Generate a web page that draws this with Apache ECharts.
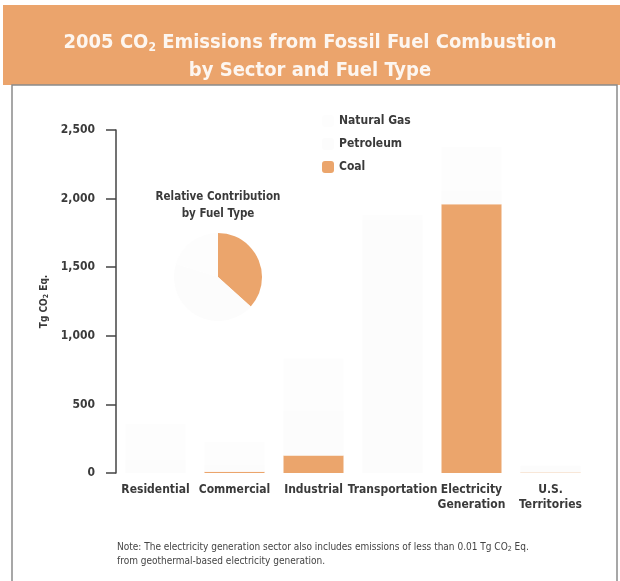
<!DOCTYPE html>
<html>
<head>
    <meta charset="utf-8">
    <title>2005 CO2 Emissions</title>
    <script src="https://cdn.jsdelivr.net/npm/echarts@6/dist/echarts.min.js"></script>
    <style>
        html, body { margin: 0; padding: 0; background: #fff; }
        #main { width: 620px; height: 581px; }
    </style>
</head>
<body>
    <div id="main"></div>
    <script type="text/javascript">
        // sectors on the x axis
        var sectors = ['Residential', 'Commercial', 'Industrial', 'Transportation', 'Electricity\nGeneration', 'U.S.\nTerritories'];
        // Tg CO2 Eq. by fuel
        var coal = [0.8, 9.3, 127.5, 0, 1958.4, 3.2];
        var petroleum = [94.9, 51.3, 325.0, 1850.0, 97.9, 50.0];
        var naturalGas = [262.2, 162.9, 382.0, 33.1, 318.8, 1.0];
        var yTicks = [0, 500, 1000, 1500, 2000, 2500];

        var narrow = "'Liberation Sans Narrow', 'DejaVu Sans Condensed', sans-serif";
        var orange = '#eba56c';
        // the other fuels are almost washed out in the original
        var ghostPet = '#fcfcfc';
        var ghostGas = '#fdfdfd';

        function sum(a) {
            var s = 0;
            for (var i = 0; i < a.length; i++) s += a[i];
            return s;
        }

        var myChart = echarts.init(document.getElementById('main'));

        var option = {
            backgroundColor: '#fff',
            animation: false,
            title: {
                text: '{a|2005 CO}{s|2}{a| Emissions from Fossil Fuel Combustion}\n{a|by Sector and Fuel Type}',
                left: 'center',
                top: 24,
                textStyle: {
                    rich: {
                        a: { color: '#fdf6f0', fontSize: 20, fontWeight: 'bold', fontFamily: narrow, lineHeight: 28 },
                        s: { color: '#fdf6f0', fontSize: 12, fontWeight: 'bold', fontFamily: narrow, padding: [10, 0, 0, 0], lineHeight: 28 }
                    }
                }
            },
            legend: {
                orient: 'vertical',
                left: 317,
                top: 110,
                itemWidth: 12,
                itemHeight: 12,
                itemGap: 11,
                data: ['Natural Gas', 'Petroleum', 'Coal'],
                textStyle: { color: '#3a3a3a', fontSize: 12, fontWeight: 'bold', fontFamily: narrow }
            },
            grid: { left: 116, right: 30, top: 130, bottom: 108 },
            xAxis: {
                type: 'category',
                data: sectors,
                axisLine: { show: false },
                axisTick: { show: false },
                axisLabel: {
                    color: '#3a3a3a', fontSize: 12, fontWeight: 'bold', fontFamily: narrow,
                    margin: 9, lineHeight: 15, interval: 0
                }
            },
            yAxis: {
                type: 'value',
                min: yTicks[0],
                max: yTicks[yTicks.length - 1],
                interval: 500,
                name: '{a|Tg CO}{s|2}{a| Eq.}',
                nameLocation: 'middle',
                nameRotate: 90,
                nameGap: 64,
                nameTextStyle: {
                    rich: {
                        a: { color: '#3a3a3a', fontSize: 10, fontWeight: 'bold', fontFamily: narrow },
                        s: { color: '#3a3a3a', fontSize: 7, fontWeight: 'bold', fontFamily: narrow, padding: [5, 0, 0, 0] }
                    }
                },
                axisLine: { show: true, lineStyle: { color: '#444', width: 1.5 } },
                axisTick: { show: true, length: 10, lineStyle: { color: '#444', width: 1.5 } },
                splitLine: { show: false },
                axisLabel: {
                    color: '#3a3a3a', fontSize: 12, fontWeight: 'bold', fontFamily: narrow, margin: 21,
                    formatter: function (v) { return v.toLocaleString('en-US'); }
                }
            },
            series: [
                {
                    name: 'Coal', type: 'bar', stack: 'fuel', data: coal, barWidth: 60,
                    itemStyle: { color: orange }
                },
                {
                    name: 'Petroleum', type: 'bar', stack: 'fuel', data: petroleum, barWidth: 60,
                    itemStyle: { color: ghostPet }
                },
                {
                    name: 'Natural Gas', type: 'bar', stack: 'fuel', data: naturalGas, barWidth: 60,
                    itemStyle: { color: ghostGas }
                },
                {
                    name: 'Relative Contribution', type: 'pie',
                    center: [218, 277], radius: 44, startAngle: 90,
                    silent: true, label: { show: false }, labelLine: { show: false },
                    data: [
                        { name: 'Coal', value: sum(coal), itemStyle: { color: orange } },
                        { name: 'Petroleum', value: sum(petroleum), itemStyle: { color: ghostPet } },
                        { name: 'Natural Gas', value: sum(naturalGas), itemStyle: { color: ghostGas } }
                    ]
                }
            ],
            graphic: [
                {
                    type: 'rect', z: -10, silent: true,
                    shape: { x: 3, y: 5, width: 617, height: 80 },
                    style: { fill: '#eba46c' }
                },
                {
                    type: 'rect', z: -10, silent: true,
                    shape: { x: 12, y: 85, width: 605, height: 500 },
                    style: { fill: 'none', stroke: '#8a8a8a', lineWidth: 1.5 }
                },
                {
                    type: 'text', x: 218, y: 189, silent: true,
                    style: {
                        text: 'Relative Contribution\nby Fuel Type',
                        align: 'center', verticalAlign: 'top', fill: '#3a3a3a', fontSize: 11.5, fontWeight: 'bold',
                        fontFamily: narrow, lineHeight: 17
                    }
                },
                {
                    type: 'text', left: 117, top: 542, silent: true,
                    style: {
                        text: '{n|Note: The electricity generation sector also includes emissions of less than 0.01 Tg CO}{s|2}{n| Eq.}\n{n|from geothermal-based electricity generation.}',
                        rich: {
                            n: { fill: '#444', fontSize: 10, fontFamily: narrow, lineHeight: 14 },
                            s: { fill: '#444', fontSize: 7, fontFamily: narrow, padding: [4, 0, 0, 0], lineHeight: 14 }
                        }
                    }
                }
            ]
        };

        myChart.setOption(option);
    </script>
</body>
</html>
